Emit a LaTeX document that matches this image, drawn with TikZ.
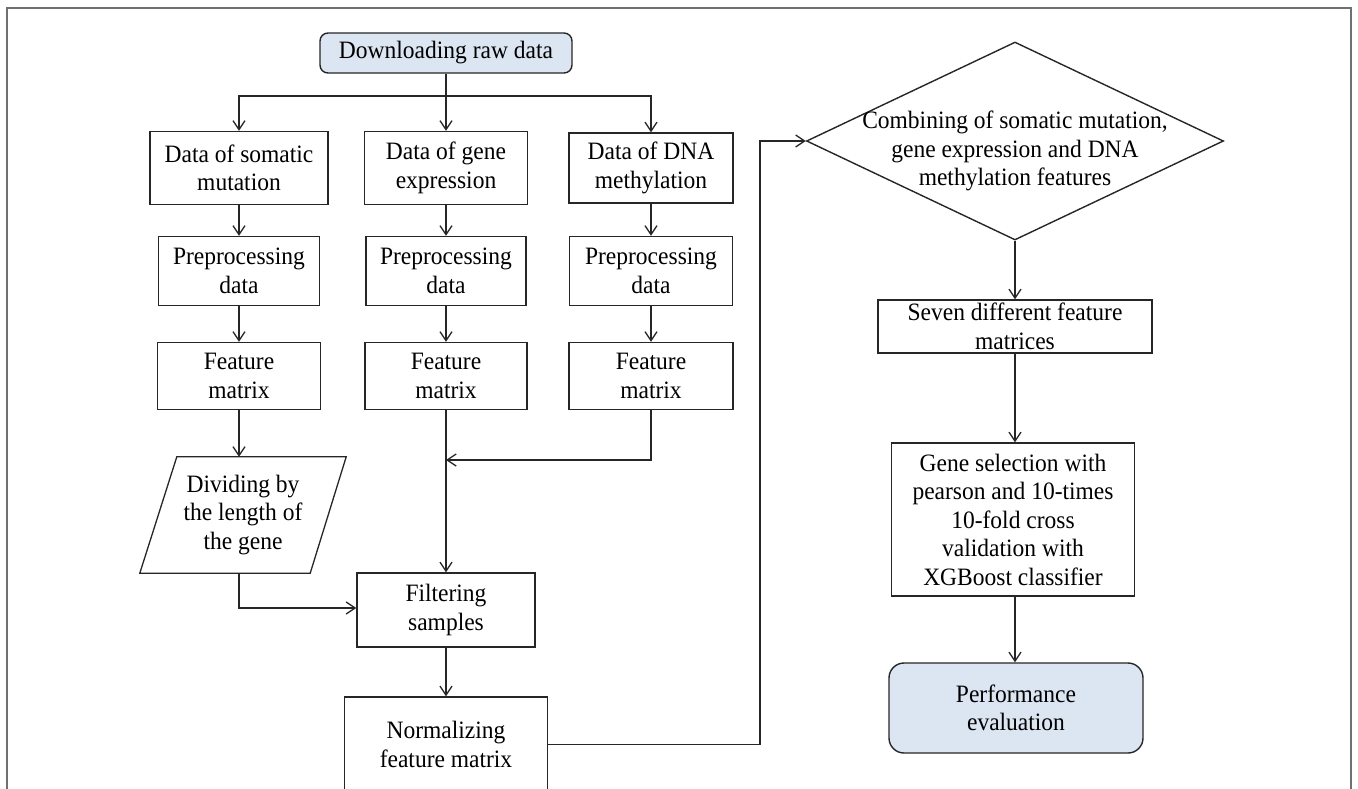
\documentclass[tikz,border=0pt]{standalone}
\usepackage{fontspec}
\setmainfont[FakeStretch=0.94]{Liberation Serif}
\usetikzlibrary{arrows.meta,shapes.geometric}
\definecolor{lineC}{HTML}{262626}
\definecolor{frameC}{HTML}{707070}
\definecolor{fillC}{HTML}{DCE6F2}
\tikzset{
  box/.style={draw=lineC, line width=1.4pt, inner sep=0pt, align=center,
    font=\fontsize{25}{28.5}\selectfont},
  rbox/.style={box, fill=fillC, rounded corners=#1},
  plain/.style={inner sep=0pt, align=center, font=\fontsize{25}{28.5}\selectfont},
  arr/.style={draw=lineC, line width=1.3pt, -{Straight Barb[length=9pt,width=12pt,line width=1.3pt]}},
  ln/.style={draw=lineC, line width=1.3pt},
}
\begin{document}
\begin{tikzpicture}[x=1pt,y=-1pt]
\useasboundingbox (0,0) rectangle (1358,788);
% frame
\draw[frameC, line width=2pt] (7,795) -- (7,8) -- (1351,8) -- (1351,795);

% nodes
\node[rbox=8pt, minimum width=252pt, minimum height=40pt] (dl) at (446,53) {Downloading raw data};

\node[box, minimum width=178pt, minimum height=73pt] (d1) at (239,168) {Data of somatic\\mutation};
\node[box, minimum width=163pt, minimum height=73pt] (d2) at (446,168) {Data of gene\\expression};
\node[box, minimum width=164pt, minimum height=70pt] (d3) at (651,168) {Data of DNA\\methylation};

\node[box, minimum width=161pt, minimum height=69pt] (p1) at (239,271) {Preprocessing\\data};
\node[box, minimum width=160pt, minimum height=69pt] (p2) at (446,271) {Preprocessing\\data};
\node[box, minimum width=163pt, minimum height=69pt] (p3) at (651,271) {Preprocessing\\data};

\node[box, minimum width=163pt, minimum height=67pt] (f1) at (239,376) {Feature\\matrix};
\node[box, minimum width=162pt, minimum height=67pt] (f2) at (446,376) {Feature\\matrix};
\node[box, minimum width=164pt, minimum height=67pt] (f3) at (651,376) {Feature\\matrix};

\node[plain, minimum width=170pt, minimum height=116pt] (dv) at (243,515) {Dividing by\\the length of\\the gene};
\draw[ln] ([xshift=19pt]dv.north west) -- ([xshift=18pt]dv.north east)
  -- ([xshift=-18pt]dv.south east) -- ([xshift=-18pt]dv.south west) -- cycle;

\node[box, minimum width=178pt, minimum height=74pt] (fs) at (446,610) {Filtering\\samples};
\node[box, minimum width=203pt, minimum height=95pt] (nm) at (446,744.5) {Normalizing\\feature matrix};

\node[draw=lineC, line width=1.4pt, diamond, inner sep=0pt, minimum width=417pt, minimum height=198pt,
  label={[plain, yshift=-10pt]center:Combining of somatic mutation,\\gene expression and DNA\\methylation features}] (cb) at (1015,141) {};

\node[box, minimum width=274pt, minimum height=53pt] (sv) at (1015,326.5) {Seven different feature\\matrices};
\node[box, minimum width=243pt, minimum height=153pt] (gs) at (1013,519.5) {Gene selection with\\pearson and 10-times\\10-fold cross\\validation with\\XGBoost classifier};
\node[rbox=15pt, minimum width=254pt, minimum height=90pt] (pe) at (1016,708) {Performance\\evaluation};

% coordinates
\coordinate (sp) at (446,96);
\coordinate (jn) at (446,460);
\coordinate (tn) at (760,141);

% connectors
\draw[ln] (dl.south) -- (sp);
\draw[arr] (sp) -| (d1.north);
\draw[arr] (sp) -- (d2.north);
\draw[arr] (sp) -| (d3.north);

\draw[arr] (d1.south) -- (p1.north);
\draw[arr] (d2.south) -- (p2.north);
\draw[arr] (d3.south) -- (p3.north);
\draw[arr] (p1.south) -- (f1.north);
\draw[arr] (p2.south) -- (f2.north);
\draw[arr] (p3.south) -- (f3.north);

\draw[arr] (f1.south) -- (f1.south |- dv.north);
\draw[arr] (f2.south) -- (fs.north);
\draw[arr] (f3.south) |- (jn);
\draw[arr] (f1.south |- dv.south) |- ([yshift=2pt]fs.west);
\draw[arr] (fs.south) -- (nm.north);

\draw[arr] (nm.east) -| (tn) -- (cb.west);
\draw[arr] (cb.south) -- (cb.south |- sv.north);
\draw[arr] (sv.south -| cb.south) -- (cb.south |- gs.north);
\draw[arr] (gs.south -| cb.south) -- (cb.south |- pe.north);
\end{tikzpicture}
\end{document}
